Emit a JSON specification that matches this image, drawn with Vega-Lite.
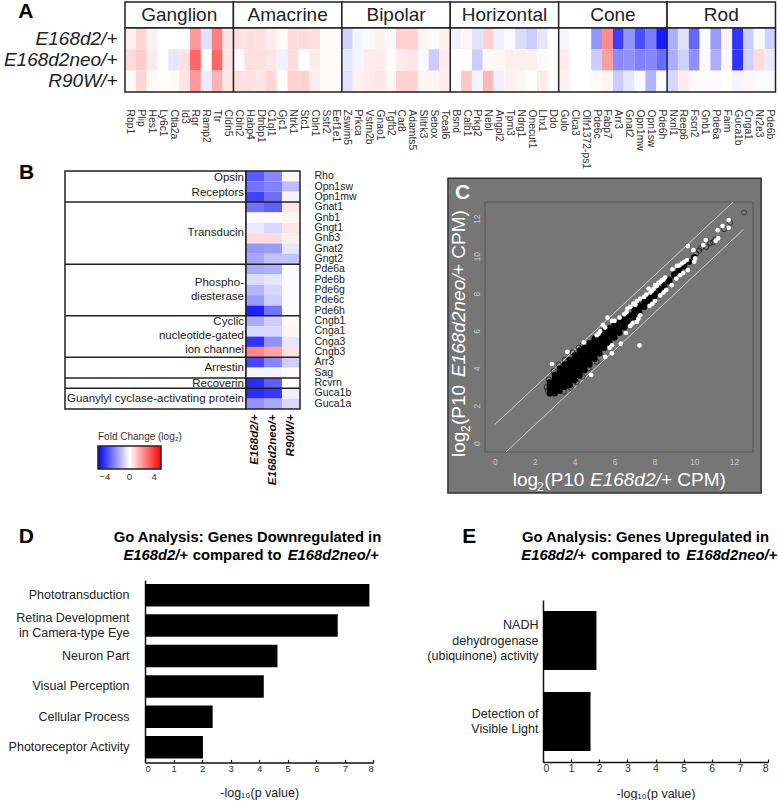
{"$schema":"https://vega.github.io/schema/vega-lite/v6.json","padding":0,"background":"white","config":{"font":"Liberation Sans","view":{"stroke":null},"axis":{"grid":false}},"datasets":{
"a":[{"g":"Rbp1","s":"E168d2/+","v":0.3},{"g":"Rbp1","s":"E168d2neo/+","v":0.7},{"g":"Rbp1","s":"R90W/+","v":0.1},{"g":"Plip","s":"E168d2/+","v":0.8},{"g":"Plip","s":"E168d2neo/+","v":1.0},{"g":"Plip","s":"R90W/+","v":0.8},{"g":"Hes1","s":"E168d2/+","v":0.3},{"g":"Hes1","s":"E168d2neo/+","v":0.4},{"g":"Hes1","s":"R90W/+","v":0.1},{"g":"Ly6c1","s":"E168d2/+","v":0},{"g":"Ly6c1","s":"E168d2neo/+","v":0},{"g":"Ly6c1","s":"R90W/+","v":0.05},{"g":"Ctla2a","s":"E168d2/+","v":0},{"g":"Ctla2a","s":"E168d2neo/+","v":-0.5},{"g":"Ctla2a","s":"R90W/+","v":0.1},{"g":"Id3","s":"E168d2/+","v":0},{"g":"Id3","s":"E168d2neo/+","v":0.6},{"g":"Id3","s":"R90W/+","v":0.5},{"g":"Rgr","s":"E168d2/+","v":2.0},{"g":"Rgr","s":"E168d2neo/+","v":3.0},{"g":"Rgr","s":"R90W/+","v":2.0},{"g":"Ramp2","s":"E168d2/+","v":-0.6},{"g":"Ramp2","s":"E168d2neo/+","v":0},{"g":"Ramp2","s":"R90W/+","v":-0.4},{"g":"Ttr","s":"E168d2/+","v":2.5},{"g":"Ttr","s":"E168d2neo/+","v":3.0},{"g":"Ttr","s":"R90W/+","v":1.5},{"g":"Cldn5","s":"E168d2/+","v":0.5},{"g":"Cldn5","s":"E168d2neo/+","v":0.5},{"g":"Cldn5","s":"R90W/+","v":0.5},
{"g":"Cbln2","s":"E168d2/+","v":0.6},{"g":"Cbln2","s":"E168d2neo/+","v":0.1},{"g":"Cbln2","s":"R90W/+","v":0.6},{"g":"Habp4","s":"E168d2/+","v":0.6},{"g":"Habp4","s":"E168d2neo/+","v":0.6},{"g":"Habp4","s":"R90W/+","v":0.6},{"g":"Dtnbp1","s":"E168d2/+","v":0.6},{"g":"Dtnbp1","s":"E168d2neo/+","v":0.6},{"g":"Dtnbp1","s":"R90W/+","v":0.5},{"g":"C1ql1","s":"E168d2/+","v":0.4},{"g":"C1ql1","s":"E168d2neo/+","v":0.5},{"g":"C1ql1","s":"R90W/+","v":0.8},{"g":"Gjc1","s":"E168d2/+","v":0.1},{"g":"Gjc1","s":"E168d2neo/+","v":-0.3},{"g":"Gjc1","s":"R90W/+","v":0},{"g":"Ntrk1","s":"E168d2/+","v":0.7},{"g":"Ntrk1","s":"E168d2neo/+","v":0.7},{"g":"Ntrk1","s":"R90W/+","v":0.9},{"g":"Stc1","s":"E168d2/+","v":0.7},{"g":"Stc1","s":"E168d2neo/+","v":0},{"g":"Stc1","s":"R90W/+","v":0.9},{"g":"Cbln1","s":"E168d2/+","v":0.6},{"g":"Cbln1","s":"E168d2neo/+","v":0.4},{"g":"Cbln1","s":"R90W/+","v":0.4},{"g":"Sstr2","s":"E168d2/+","v":0.1},{"g":"Sstr2","s":"E168d2neo/+","v":0.1},{"g":"Sstr2","s":"R90W/+","v":0.1},{"g":"Eef1e1","s":"E168d2/+","v":0.1},{"g":"Eef1e1","s":"E168d2neo/+","v":0.1},{"g":"Eef1e1","s":"R90W/+","v":0.1},
{"g":"Zswim5","s":"E168d2/+","v":-0.9},{"g":"Zswim5","s":"E168d2neo/+","v":-0.5},{"g":"Zswim5","s":"R90W/+","v":-0.6},{"g":"Prkca","s":"E168d2/+","v":-0.2},{"g":"Prkca","s":"E168d2neo/+","v":-0.2},{"g":"Prkca","s":"R90W/+","v":0.3},{"g":"Vstm2b","s":"E168d2/+","v":-0.1},{"g":"Vstm2b","s":"E168d2neo/+","v":0.4},{"g":"Vstm2b","s":"R90W/+","v":0.4},{"g":"Gnao1","s":"E168d2/+","v":0.3},{"g":"Gnao1","s":"E168d2neo/+","v":0.4},{"g":"Gnao1","s":"R90W/+","v":0.5},{"g":"Tgfb2","s":"E168d2/+","v":-0.1},{"g":"Tgfb2","s":"E168d2neo/+","v":0.1},{"g":"Tgfb2","s":"R90W/+","v":0.2},{"g":"Car8","s":"E168d2/+","v":0.9},{"g":"Car8","s":"E168d2neo/+","v":0.4},{"g":"Car8","s":"R90W/+","v":0.9},{"g":"Adamts5","s":"E168d2/+","v":0.9},{"g":"Adamts5","s":"E168d2neo/+","v":0.5},{"g":"Adamts5","s":"R90W/+","v":0.9},{"g":"Slitrk3","s":"E168d2/+","v":0.2},{"g":"Slitrk3","s":"E168d2neo/+","v":-0.1},{"g":"Slitrk3","s":"R90W/+","v":0.2},{"g":"Sebox","s":"E168d2/+","v":-0.1},{"g":"Sebox","s":"E168d2neo/+","v":-1.0},{"g":"Sebox","s":"R90W/+","v":0.2},{"g":"Tceal6","s":"E168d2/+","v":0.3},{"g":"Tceal6","s":"E168d2neo/+","v":0.4},{"g":"Tceal6","s":"R90W/+","v":0.4},
{"g":"Bsnd","s":"E168d2/+","v":-0.3},{"g":"Bsnd","s":"E168d2neo/+","v":0},{"g":"Bsnd","s":"R90W/+","v":0},{"g":"Calb1","s":"E168d2/+","v":0.2},{"g":"Calb1","s":"E168d2neo/+","v":0},{"g":"Calb1","s":"R90W/+","v":1.1},{"g":"Prkg2","s":"E168d2/+","v":-0.6},{"g":"Prkg2","s":"E168d2neo/+","v":-1.0},{"g":"Prkg2","s":"R90W/+","v":-0.2},{"g":"Nebl","s":"E168d2/+","v":0.9},{"g":"Nebl","s":"E168d2neo/+","v":0.1},{"g":"Nebl","s":"R90W/+","v":1.4},{"g":"Angpl2","s":"E168d2/+","v":-0.3},{"g":"Angpl2","s":"E168d2neo/+","v":0.2},{"g":"Angpl2","s":"R90W/+","v":-0.3},{"g":"Tpm3","s":"E168d2/+","v":-0.1},{"g":"Tpm3","s":"E168d2neo/+","v":0.3},{"g":"Tpm3","s":"R90W/+","v":0.3},{"g":"Ndrg1","s":"E168d2/+","v":-0.7},{"g":"Ndrg1","s":"E168d2neo/+","v":0.3},{"g":"Ndrg1","s":"R90W/+","v":0.2},{"g":"Onecut1","s":"E168d2/+","v":-1.0},{"g":"Onecut1","s":"E168d2neo/+","v":0.3},{"g":"Onecut1","s":"R90W/+","v":0},{"g":"Lhx1","s":"E168d2/+","v":-0.5},{"g":"Lhx1","s":"E168d2neo/+","v":0.1},{"g":"Lhx1","s":"R90W/+","v":0.4},{"g":"Ddo","s":"E168d2/+","v":0},{"g":"Ddo","s":"E168d2neo/+","v":0},{"g":"Ddo","s":"R90W/+","v":0},
{"g":"Gulo","s":"E168d2/+","v":-0.2},{"g":"Gulo","s":"E168d2neo/+","v":0.4},{"g":"Gulo","s":"R90W/+","v":0.3},{"g":"Clca3","s":"E168d2/+","v":0},{"g":"Clca3","s":"E168d2neo/+","v":0},{"g":"Clca3","s":"R90W/+","v":0},{"g":"Olfr1372-ps1","s":"E168d2/+","v":0},{"g":"Olfr1372-ps1","s":"E168d2neo/+","v":0},{"g":"Olfr1372-ps1","s":"R90W/+","v":0},{"g":"Pde6c","s":"E168d2/+","v":-2.1},{"g":"Pde6c","s":"E168d2neo/+","v":-1.0},{"g":"Pde6c","s":"R90W/+","v":0.1},{"g":"Fabp7","s":"E168d2/+","v":2.3},{"g":"Fabp7","s":"E168d2neo/+","v":1.9},{"g":"Fabp7","s":"R90W/+","v":0.2},{"g":"Arr3","s":"E168d2/+","v":-3.8},{"g":"Arr3","s":"E168d2neo/+","v":-2.3},{"g":"Arr3","s":"R90W/+","v":-1.0},{"g":"Gnat2","s":"E168d2/+","v":-2.1},{"g":"Gnat2","s":"E168d2neo/+","v":-2.2},{"g":"Gnat2","s":"R90W/+","v":-0.5},{"g":"Opn1mw","s":"E168d2/+","v":-3.5},{"g":"Opn1mw","s":"E168d2neo/+","v":-2.5},{"g":"Opn1mw","s":"R90W/+","v":-0.1},{"g":"Opn1sw","s":"E168d2/+","v":-2.6},{"g":"Opn1sw","s":"E168d2neo/+","v":-2.4},{"g":"Opn1sw","s":"R90W/+","v":-1.5},{"g":"Pde6h","s":"E168d2/+","v":-4.5},{"g":"Pde6h","s":"E168d2neo/+","v":-2.9},{"g":"Pde6h","s":"R90W/+","v":-0.1},
{"g":"Nxnl1","s":"E168d2/+","v":-1.6},{"g":"Nxnl1","s":"E168d2neo/+","v":-1.6},{"g":"Nxnl1","s":"R90W/+","v":-0.8},{"g":"Reep6","s":"E168d2/+","v":-0.6},{"g":"Reep6","s":"E168d2neo/+","v":-0.9},{"g":"Reep6","s":"R90W/+","v":0.4},{"g":"Fscn2","s":"E168d2/+","v":-3.0},{"g":"Fscn2","s":"E168d2neo/+","v":-2.2},{"g":"Fscn2","s":"R90W/+","v":0.1},{"g":"Gnb1","s":"E168d2/+","v":-0.1},{"g":"Gnb1","s":"E168d2neo/+","v":-0.1},{"g":"Gnb1","s":"R90W/+","v":0.1},{"g":"Pde6a","s":"E168d2/+","v":-2.0},{"g":"Pde6a","s":"E168d2neo/+","v":-1.6},{"g":"Pde6a","s":"R90W/+","v":-0.1},{"g":"Faim","s":"E168d2/+","v":0.2},{"g":"Faim","s":"E168d2neo/+","v":-0.1},{"g":"Faim","s":"R90W/+","v":0},{"g":"Guca1b","s":"E168d2/+","v":-4.0},{"g":"Guca1b","s":"E168d2neo/+","v":-4.0},{"g":"Guca1b","s":"R90W/+","v":-0.2},{"g":"Cnga1","s":"E168d2/+","v":-1.0},{"g":"Cnga1","s":"E168d2neo/+","v":-0.9},{"g":"Cnga1","s":"R90W/+","v":0.2},{"g":"Nr2e3","s":"E168d2/+","v":-0.1},{"g":"Nr2e3","s":"E168d2neo/+","v":0.7},{"g":"Nr2e3","s":"R90W/+","v":-0.1},{"g":"Pde6b","s":"E168d2/+","v":-0.9},{"g":"Pde6b","s":"E168d2neo/+","v":-0.4},{"g":"Pde6b","s":"R90W/+","v":-0.1}],
"b":[{"g":"Rho","a":-3.3,"n":-2.4,"r":0.2},{"g":"Opn1sw","a":-2.8,"n":-2.5,"r":-1.3},{"g":"Opn1mw","a":-3.8,"n":-2.9,"r":-0.2},{"g":"Gnat1","a":-2.8,"n":-3.2,"r":0.5},{"g":"Gnb1","a":-0.1,"n":-0.1,"r":0.2},{"g":"Gngt1","a":-0.4,"n":-0.8,"r":0.5},{"g":"Gnb3","a":0.7,"n":0.7,"r":0.3},{"g":"Gnat2","a":-2.1,"n":-2.0,"r":-0.5},{"g":"Gngt2","a":-1.8,"n":-1.2,"r":-1.2},{"g":"Pde6a","a":-1.7,"n":-1.6,"r":-0.1},{"g":"Pde6b","a":-0.7,"n":-0.5,"r":-0.1},{"g":"Pde6g","a":-1.5,"n":-0.8,"r":-0.1},{"g":"Pde6c","a":-2.0,"n":-1.0,"r":-0.1},{"g":"Pde6h","a":-4.5,"n":-2.8,"r":-0.1},{"g":"Cngb1","a":-1.7,"n":-1.0,"r":0.1},{"g":"Cnga1","a":-0.8,"n":-0.8,"r":0.2},{"g":"Cnga3","a":-4.1,"n":-2.2,"r":-0.5},{"g":"Cngb3","a":2.4,"n":1.8,"r":0.6},{"g":"Arr3","a":-3.7,"n":-2.4,"r":-1.0},{"g":"Sag","a":-0.2,"n":-0.2,"r":0.1},{"g":"Rcvrn","a":-4.2,"n":-3.2,"r":0},{"g":"Guca1b","a":-4.2,"n":-4.0,"r":-0.3},{"g":"Guca1a","a":-2.2,"n":-1.7,"r":-0.8}],
"cloud":[{"x":2.75,"y":2.65},{"x":2.75,"y":2.85},{"x":2.75,"y":3.05},{"x":2.75,"y":3.25},{"x":3,"y":2.65},{"x":3,"y":2.85},{"x":3,"y":3.05},{"x":3,"y":3.25},{"x":3,"y":3.45},{"x":3,"y":3.65},{"x":3.25,"y":2.8},{"x":3.25,"y":3.0},{"x":3.25,"y":3.2},{"x":3.25,"y":3.4},{"x":3.25,"y":3.6},{"x":3.25,"y":3.8},{"x":3.25,"y":4.0},{"x":3.5,"y":3.0},{"x":3.5,"y":3.2},{"x":3.5,"y":3.4},{"x":3.5,"y":3.6},{"x":3.5,"y":3.8},{"x":3.5,"y":4.0},{"x":3.5,"y":4.2},{"x":3.75,"y":3.1},{"x":3.75,"y":3.3},{"x":3.75,"y":3.5},{"x":3.75,"y":3.7},{"x":3.75,"y":3.9},{"x":3.75,"y":4.1},{"x":3.75,"y":4.3},{"x":3.75,"y":4.45},{"x":4,"y":3.35},{"x":4,"y":3.55},{"x":4,"y":3.75},{"x":4,"y":3.95},{"x":4,"y":4.15},{"x":4,"y":4.35},{"x":4,"y":4.55},{"x":4,"y":4.7},{"x":4.25,"y":3.6},{"x":4.25,"y":3.8},{"x":4.25,"y":4.0},{"x":4.25,"y":4.2},{"x":4.25,"y":4.4},{"x":4.25,"y":4.6},{"x":4.25,"y":4.8},{"x":4.25,"y":4.95},{"x":4.5,"y":3.9},{"x":4.5,"y":4.1},{"x":4.5,"y":4.3},{"x":4.5,"y":4.5},{"x":4.5,"y":4.7},{"x":4.5,"y":4.9},{"x":4.5,"y":5.1},{"x":4.75,"y":4.2},{"x":4.75,"y":4.4},{"x":4.75,"y":4.6},{"x":4.75,"y":4.8},{"x":4.75,"y":5.0},{"x":4.75,"y":5.2},{"x":4.75,"y":5.35},{"x":5,"y":4.5},{"x":5,"y":4.7},{"x":5,"y":4.9},{"x":5,"y":5.1},{"x":5,"y":5.3},{"x":5,"y":5.5},{"x":5,"y":5.6},{"x":5.25,"y":4.8},{"x":5.25,"y":5.0},{"x":5.25,"y":5.2},{"x":5.25,"y":5.4},{"x":5.25,"y":5.6},{"x":5.25,"y":5.8},{"x":5.5,"y":5.1},{"x":5.5,"y":5.3},{"x":5.5,"y":5.5},{"x":5.5,"y":5.7},{"x":5.5,"y":5.9},{"x":5.5,"y":6.05},{"x":5.75,"y":5.35},{"x":5.75,"y":5.55},{"x":5.75,"y":5.75},{"x":5.75,"y":5.95},{"x":5.75,"y":6.15},{"x":6,"y":5.65},{"x":6,"y":5.85},{"x":6,"y":6.05},{"x":6,"y":6.25},{"x":6,"y":6.4},{"x":6.25,"y":5.9},{"x":6.25,"y":6.1},{"x":6.25,"y":6.3},{"x":6.25,"y":6.5},{"x":6.5,"y":6.2},{"x":6.5,"y":6.4},{"x":6.5,"y":6.6},{"x":6.5,"y":6.75},{"x":6.75,"y":6.45},{"x":6.75,"y":6.65},{"x":6.75,"y":6.85},{"x":7,"y":6.75},{"x":7,"y":6.95},{"x":7,"y":7.1},{"x":7.25,"y":7.0},{"x":7.25,"y":7.2},{"x":7.25,"y":7.35},{"x":7.5,"y":7.3},{"x":7.5,"y":7.45},{"x":7.5,"y":7.6},{"x":7.75,"y":7.55},{"x":7.75,"y":7.7},{"x":7.75,"y":7.85},{"x":8,"y":7.85},{"x":8,"y":8.0},{"x":8.25,"y":8.1},{"x":8.25,"y":8.25},{"x":8.5,"y":8.35},{"x":8.5,"y":8.5},{"x":8.75,"y":8.65},{"x":8.75,"y":8.75},{"x":9,"y":8.95},{"x":9,"y":9.05},{"x":9.25,"y":9.2},{"x":9.25,"y":9.3},{"x":9.5,"y":9.45},{"x":9.5,"y":9.55},{"x":9.75,"y":9.7},{"x":10,"y":9.95}],
"fringe":[{"x":2.65,"y":2.8},{"x":2.6,"y":3.0},{"x":2.7,"y":3.4},{"x":2.95,"y":3.85},{"x":3.2,"y":4.2},{"x":3.5,"y":4.45},{"x":3.9,"y":4.85},{"x":4.2,"y":5.1},{"x":4.4,"y":5.25},{"x":3.45,"y":2.75},{"x":3.8,"y":2.95},{"x":4.1,"y":3.25},{"x":4.4,"y":3.55},{"x":4.7,"y":4.0},{"x":5.1,"y":4.35},{"x":10.1,"y":10.15},{"x":10.25,"y":10.3},{"x":10.35,"y":10.45},{"x":10.6,"y":10.5},{"x":10.8,"y":10.7},{"x":10.95,"y":10.75},{"x":11.05,"y":10.9},{"x":11.5,"y":11.45},{"x":11.8,"y":11.8}],
"white":[{"x":2.86,"y":4.23},{"x":3.63,"y":4.88},{"x":4.46,"y":5.39},{"x":5.65,"y":6.71},{"x":5.42,"y":6.32},{"x":5.53,"y":6.18},{"x":5.11,"y":5.77},{"x":5.2,"y":5.85},{"x":5.28,"y":5.98},{"x":5.87,"y":6.54},{"x":6.0,"y":6.54},{"x":6.25,"y":6.71},{"x":6.49,"y":6.89},{"x":6.6,"y":7.0},{"x":6.65,"y":7.2},{"x":6.79,"y":7.29},{"x":6.95,"y":7.46},{"x":7.05,"y":7.4},{"x":7.12,"y":7.6},{"x":7.29,"y":7.73},{"x":7.49,"y":7.82},{"x":7.6,"y":7.95},{"x":7.71,"y":8.27},{"x":7.8,"y":8.05},{"x":7.87,"y":8.14},{"x":7.95,"y":8.25},{"x":8.04,"y":8.45},{"x":8.12,"y":8.4},{"x":8.21,"y":8.57},{"x":8.3,"y":8.6},{"x":8.37,"y":8.71},{"x":8.45,"y":8.75},{"x":8.54,"y":8.86},{"x":8.91,"y":9.3},{"x":9.13,"y":9.48},{"x":9.25,"y":9.5},{"x":9.38,"y":9.61},{"x":9.5,"y":9.7},{"x":9.63,"y":9.79},{"x":9.68,"y":10.54},{"x":9.96,"y":10.32},{"x":10.05,"y":9.88},{"x":10.46,"y":10.59},{"x":10.58,"y":10.86},{"x":11.18,"y":11.39},{"x":11.42,"y":11.61},{"x":11.73,"y":11.93},{"x":11.73,"y":11.52},{"x":11.2,"y":10.95},{"x":11.08,"y":10.82},{"x":4.83,"y":3.64},{"x":5.53,"y":4.61},{"x":5.87,"y":4.8},{"x":5.75,"y":5.1},{"x":5.87,"y":5.23},{"x":6.32,"y":5.32},{"x":6.57,"y":5.89},{"x":6.79,"y":6.27},{"x":6.9,"y":6.4},{"x":7.12,"y":6.48},{"x":7.25,"y":5.23},{"x":7.29,"y":6.84},{"x":7.2,"y":6.65},{"x":7.76,"y":7.34},{"x":7.9,"y":7.45},{"x":8.04,"y":7.6},{"x":8.3,"y":7.9},{"x":8.46,"y":8.05},{"x":8.6,"y":8.2},{"x":8.87,"y":8.45},{"x":9.1,"y":8.8},{"x":9.29,"y":8.98},{"x":9.45,"y":9.1},{"x":9.68,"y":9.25},{"x":10.0,"y":9.7}]},
"bounds":"flush","spacing":0,
"resolve":{"scale":{"color":"independent"},"legend":{"color":"independent"}},
"vconcat":[
{"width":1,"height":2,"data":{"values":[{}]},"mark":{"type":"rect","opacity":0},"encoding":{}},
{"hconcat":[
{"width":124.5,"height":90,"data":{"values":[{}]},"mark":{"type":"rect","opacity":0},"encoding":{}},
{"vconcat":[
{"width":650.5,"height":26,"data":{"values":[{"c":"Ganglion"},{"c":"Amacrine"},{"c":"Bipolar"},{"c":"Horizontal"},{"c":"Cone"},{"c":"Rod"}]},
"layer":[
{"mark":{"type":"rect","fill":"white","stroke":"#222","strokeWidth":1.5},"encoding":{"x":{"field":"c","type":"nominal","sort":null,"axis":null,"scale":{"type":"band","paddingInner":0,"paddingOuter":0}}}},
{"mark":{"type":"text","fontSize":19,"color":"#222"},"encoding":{"x":{"field":"c","type":"nominal","sort":null,"axis":null},"text":{"field":"c"}}},
{"data":{"values":[{"t":"A"}]},"mark":{"type":"text","align":"left","fontSize":21,"fontWeight":"bold","dx":-432,"dy":-3},"encoding":{"text":{"field":"t"}}}]},
{"width":650.5,"height":64,"data":{"name":"a"},
"layer":[
{"mark":{"type":"rect"},"encoding":{
"x":{"field":"g","type":"nominal","sort":null,"scale":{"type":"band","paddingInner":0,"paddingOuter":0},"axis":{"title":null,"domain":false,"ticks":false,"labelAngle":90,"labelAlign":"left","labelBaseline":"middle","labelPadding":17,"labelFontSize":10.3,"labelColor":"#333","labelOverlap":false,"labelLimit":200}},
"y":{"field":"s","type":"nominal","sort":null,"scale":{"type":"band","paddingInner":0,"paddingOuter":0},"axis":{"title":null,"domain":false,"ticks":false,"labelFontSize":19,"labelFontStyle":"italic","labelColor":"#222","labelPadding":8,"labelLimit":200}},
"color":{"field":"v","type":"quantitative","legend":null,"scale":{"domain":[-5,0,5],"range":["#0000ff","#ffffff","#ff0000"],"interpolate":"rgb"}}}},
{"data":{"values":[{"g":"Cbln2"},{"g":"Zswim5"},{"g":"Bsnd"},{"g":"Gulo"},{"g":"Nxnl1"}]},"mark":{"type":"rule","color":"#222","strokeWidth":1.5},"encoding":{"x":{"field":"g","type":"nominal","bandPosition":0,"sort":null}}},
{"data":{"values":[{}]},"mark":{"type":"rect","fill":null,"stroke":"#222","strokeWidth":1.5},"encoding":{}}]}
],"spacing":0,"bounds":"flush"}
],"spacing":0,"bounds":"flush"},
{"width":1,"height":169,"data":{"values":[{}]},"mark":{"type":"rect","opacity":0},"encoding":{}},
{"hconcat":[
{"width":65,"height":238,"data":{"values":[{}]},"mark":{"type":"rect","opacity":0},"encoding":{}},
{"width":181,"height":238,"layer":[
{"data":{"values":[{"y":3},{"y":9},{"y":14},{"y":18},{"y":20},{"y":21}]},"mark":{"type":"rule","color":"#222","strokeWidth":1.5},"encoding":{"y":{"field":"y","type":"quantitative","axis":null,"scale":{"domain":[0,23],"reverse":true,"nice":false,"zero":false}}}},
{"data":{"values":[{"t":"Opsin","y":0.68},{"t":"Receptors","y":2.1},{"t":"Transducin","y":5.96},{"t":"Phospho-","y":10.8},{"t":"diesterase","y":12.15},{"t":"Cyclic","y":14.6},{"t":"nucleotide-gated","y":15.94},{"t":"ion channel","y":17.3},{"t":"Arrestin","y":19},{"t":"Recoverin","y":20.58},{"t":"Guanylyl cyclase-activating protein","y":22.03}]},"mark":{"type":"text","align":"right","baseline":"middle","fontSize":11.5,"dx":88.5,"color":"#222"},"encoding":{"y":{"field":"y","type":"quantitative","axis":null},"text":{"field":"t"}}},
{"data":{"values":[{}]},"mark":{"type":"rect","fill":null,"stroke":"#222","strokeWidth":1.5},"encoding":{}},
{"data":{"values":[{"t":"B"}]},"mark":{"type":"text","align":"left","fontSize":21,"fontWeight":"bold","dx":-136.5,"dy":-117},"encoding":{"text":{"field":"t"}}}]},
{"width":54,"height":238,"data":{"name":"b"},"transform":[{"fold":["a","n","r"],"as":["k","v"]},{"lookup":"k","from":{"data":{"values":[{"k":"a","s":"E168d2/+"},{"k":"n","s":"E168d2neo/+"},{"k":"r","s":"R90W/+"}]},"key":"k","fields":["s"]}}],
"layer":[
{"mark":{"type":"rect"},"encoding":{
"x":{"field":"s","type":"nominal","sort":["E168d2/+","E168d2neo/+","R90W/+"],"scale":{"type":"band","paddingInner":0,"paddingOuter":0},"axis":{"title":null,"domain":false,"ticks":false,"labelAngle":270,"labelAlign":"right","labelBaseline":"middle","labelPadding":5,"labelFontSize":11.5,"labelFontStyle":"italic","labelFontWeight":"bold","labelColor":"#111"}},
"y":{"field":"g","type":"nominal","sort":null,"scale":{"type":"band","paddingInner":0,"paddingOuter":0},"axis":{"orient":"right","title":null,"domain":false,"ticks":false,"labelFontSize":10.5,"labelColor":"#222","labelPadding":14,"labelOverlap":false}},
"color":{"field":"v","type":"quantitative","scale":{"domain":[-5.1,0,5.1],"range":["#0000ff","#ffffff","#ff0000"],"interpolate":"rgb"},"legend":{"orient":"none","legendX":98,"legendY":261,"direction":"horizontal","gradientLength":63,"gradientThickness":23,"gradientStrokeColor":"#222","gradientStrokeWidth":1.5,"values":[-4,0,4],"title":"Fold Change (log₂)","titleFontSize":10,"titleFontWeight":"normal","titleColor":"#333","titleLimit":200,"titlePadding":4,"labelFontSize":9.5,"labelColor":"#333","labelOffset":3}}}},
{"data":{"values":[{"g":"Gnat1"},{"g":"Pde6a"},{"g":"Cngb1"},{"g":"Arr3"},{"g":"Rcvrn"},{"g":"Guca1b"}]},"mark":{"type":"rule","color":"#222","strokeWidth":1.5},"encoding":{"y":{"field":"g","type":"nominal","bandPosition":0,"sort":null}}},
{"data":{"values":[{}]},"mark":{"type":"rect","fill":null,"stroke":"#222","strokeWidth":1.5},"encoding":{}}]},
{"width":185,"height":238,"data":{"values":[{}]},"mark":{"type":"rect","opacity":0},"encoding":{}},
{"vconcat":[
{"width":1,"height":31,"data":{"values":[{}]},"mark":{"type":"rect","opacity":0},"encoding":{}},
{"width":268,"height":250,"layer":[
{"data":{"values":[{"x":-2.36,"x2":13.36,"y":-2.68,"y2":14.17}]},"mark":{"type":"rect","fill":"#767676","stroke":"#333","strokeWidth":1.5},"encoding":{"x":{"field":"x","type":"quantitative","scale":{"domain":[-0.5,12.95],"nice":false,"zero":false},"axis":{"title":null,"grid":false,"domain":false,"ticks":false,"zindex":1,"values":[0,2,4,6,8,10,12],"labelColor":"#c8c8c8","labelFontSize":8.5,"labelPadding":5}},"x2":{"field":"x2"},"y":{"field":"y","type":"quantitative","scale":{"domain":[-0.48,12.9],"nice":false,"zero":false},"axis":{"title":null,"grid":false,"domain":false,"ticks":false,"zindex":1,"values":[0,2,4,6,8,10,12],"labelColor":"#c8c8c8","labelFontSize":8.5,"labelPadding":4,"labelAngle":270,"labelAlign":"center","labelBaseline":"bottom"}},"y2":{"field":"y2"}}},
{"data":{"values":[{"x":-0.5,"x2":12.95,"y":-0.48,"y2":12.9}]},"mark":{"type":"rect","fill":null,"stroke":"#555","strokeWidth":1},"encoding":{"x":{"field":"x","type":"quantitative"},"x2":{"field":"x2"},"y":{"field":"y","type":"quantitative"},"y2":{"field":"y2"}}},
{"data":{"values":[{"b":"u","x":0,"y":1},{"b":"u","x":11.95,"y":12.9},{"b":"l","x":0.55,"y":-0.48},{"b":"l","x":12.47,"y":11.43}]},"mark":{"type":"line","color":"#d0d0d0","strokeWidth":1},"encoding":{"x":{"field":"x","type":"quantitative"},"y":{"field":"y","type":"quantitative"},"detail":{"field":"b"}}},
{"data":{"name":"fringe"},"mark":{"type":"point","filled":false,"color":"#111","size":26,"strokeWidth":1},"encoding":{"x":{"field":"x","type":"quantitative"},"y":{"field":"y","type":"quantitative"}}},
{"data":{"values":[{"x":12.5,"y":12.35}]},"mark":{"type":"point","filled":false,"color":"#333","size":26,"strokeWidth":1},"encoding":{"x":{"field":"x","type":"quantitative"},"y":{"field":"y","type":"quantitative"}}},
{"data":{"name":"cloud"},"mark":{"type":"point","filled":true,"color":"#000","size":38,"opacity":1},"encoding":{"x":{"field":"x","type":"quantitative"},"y":{"field":"y","type":"quantitative"}}},
{"data":{"name":"white"},"mark":{"type":"point","filled":true,"color":"#fff","size":22,"opacity":1},"encoding":{"x":{"field":"x","type":"quantitative"},"y":{"field":"y","type":"quantitative"}}},
{"data":{"values":[{"t":"C"}]},"mark":{"type":"text","align":"left","fontSize":21,"fontWeight":"bold","color":"white","dx":-164,"dy":-134},"encoding":{"text":{"field":"t"}}},
{"data":{"values":[{"t":"log"}]},"mark":{"type":"text","align":"left","fontSize":19,"color":"white","dx":-106.3,"dy":153},"encoding":{"text":{"field":"t"}}},
{"data":{"values":[{"t":"2"}]},"mark":{"type":"text","align":"left","fontSize":12,"color":"white","dx":-82,"dy":160},"encoding":{"text":{"field":"t"}}},
{"data":{"values":[{"t":"(P10"}]},"mark":{"type":"text","align":"left","fontSize":19,"color":"white","dx":-74.7,"dy":153},"encoding":{"text":{"field":"t"}}},
{"data":{"values":[{"t":"E168d2/"}]},"mark":{"type":"text","align":"left","fontSize":19,"fontStyle":"italic","color":"white","dx":-29,"dy":153},"encoding":{"text":{"field":"t"}}},
{"data":{"values":[{"t":"+ CPM)"}]},"mark":{"type":"text","align":"left","fontSize":19,"color":"white","dx":42,"dy":153},"encoding":{"text":{"field":"t"}}},
{"data":{"values":[{"t":"log"}]},"mark":{"type":"text","align":"left","angle":270,"fontSize":19,"color":"white","dx":-130,"dy":-160},"encoding":{"text":{"field":"t"}}},
{"data":{"values":[{"t":"2"}]},"mark":{"type":"text","align":"left","angle":270,"fontSize":12,"color":"white","dx":-105,"dy":-153},"encoding":{"text":{"field":"t"}}},
{"data":{"values":[{"t":"(P10"}]},"mark":{"type":"text","align":"left","angle":270,"fontSize":19,"color":"white","dx":-98,"dy":-160},"encoding":{"text":{"field":"t"}}},
{"data":{"values":[{"t":"E168d2neo/"}]},"mark":{"type":"text","align":"left","angle":270,"fontSize":19,"fontStyle":"italic","color":"white","dx":-50,"dy":-160},"encoding":{"text":{"field":"t"}}},
{"data":{"values":[{"t":"+ CPM)"}]},"mark":{"type":"text","align":"left","angle":270,"fontSize":19,"color":"white","dx":52,"dy":-160},"encoding":{"text":{"field":"t"}}}
]}],"spacing":0,"bounds":"flush"}
],"spacing":0,"bounds":"flush"},
{"width":1,"height":409,"data":{"values":[{}]},"mark":{"type":"rect","opacity":0},"encoding":{}},
{"hconcat":[
{"width":144.3,"height":182,"data":{"values":[{}]},"mark":{"type":"rect","opacity":0},"encoding":{}},
{"width":228.4,"height":182.4,"data":{"values":[{"c":"Phototransduction","v":7.86},{"c":"Retina Development|in Camera-type Eye  ","v":6.75},{"c":"Neuron Part","v":4.64},{"c":"Visual Perception","v":4.16},{"c":"Cellular Process","v":2.37},{"c":"Photoreceptor Activity","v":2.03}]},
"layer":[
{"mark":{"type":"bar","color":"#000"},"encoding":{
"x":{"field":"v","type":"quantitative","scale":{"domain":[0,8],"nice":false},"axis":{"title":"-log₁₀(p value)","titleFontSize":12.5,"titleFontWeight":"normal","titleColor":"#222","titlePadding":14,"values":[0,1,2,3,4,5,6,7,8],"domainColor":"#111","domainWidth":1.5,"tickColor":"#111","tickSize":-3,"tickWidth":1.2,"labelPadding":4,"labelFontSize":9.5,"labelColor":"#333","labelAngle":0}},
"y":{"field":"c","type":"nominal","sort":null,"scale":{"type":"band","paddingInner":0.26,"paddingOuter":0.13},"axis":{"title":null,"domainColor":"#111","domainWidth":1.5,"ticks":false,"labelPadding":16,"labelFontSize":12.5,"labelColor":"#222","labelLimit":200,"labelLineHeight":15,"labelExpr":"split(datum.label,'|')","encoding":{"labels":{"dy":{"value":{"signal":"-(length(split(datum.value,'|'))-1)*7.5"}}}}}}}},
{"data":{"values":[{"t":"D"}]},"mark":{"type":"text","align":"left","fontSize":21,"fontWeight":"bold","dx":-240.5,"dy":-134},"encoding":{"text":{"field":"t"}}},
{"data":{"values":[{"t":"Go Analysis: Genes Downregulated in"}]},"mark":{"type":"text","align":"left","fontSize":14.8,"fontWeight":"bold","dx":-145.5,"dy":-133.5},"encoding":{"text":{"field":"t"}}},
{"data":{"values":[{"t":"E168d2/+"}]},"mark":{"type":"text","align":"left","fontSize":14.8,"fontWeight":"bold","fontStyle":"italic","dx":-135.8,"dy":-115.5},"encoding":{"text":{"field":"t"}}},
{"data":{"values":[{"t":"compared to"}]},"mark":{"type":"text","align":"left","fontSize":14.8,"fontWeight":"bold","dx":-66.5,"dy":-115.5},"encoding":{"text":{"field":"t"}}},
{"data":{"values":[{"t":"E168d2neo/+"}]},"mark":{"type":"text","align":"left","fontSize":14.8,"fontWeight":"bold","fontStyle":"italic","dx":28.5,"dy":-115.5},"encoding":{"text":{"field":"t"}}}]},
{"width":169,"height":182,"data":{"values":[{}]},"mark":{"type":"rect","opacity":0},"encoding":{}},
{"vconcat":[
{"width":1,"height":20,"data":{"values":[{}]},"mark":{"type":"rect","opacity":0},"encoding":{}},
{"width":225,"height":162,"data":{"values":[{"c":"NADH  |dehydrogenase  |(ubiquinone) activity","v":1.9},{"c":"Detection of  |Visible Light","v":1.69}]},
"layer":[
{"mark":{"type":"bar","color":"#000"},"encoding":{
"x":{"field":"v","type":"quantitative","scale":{"domain":[0,8],"nice":false},"axis":{"title":"-log₁₀(p value)","titleFontSize":12.5,"titleFontWeight":"normal","titleColor":"#222","titlePadding":14,"values":[0,1,2,3,4,5,6,7,8],"domainColor":"#111","domainWidth":1.5,"tickColor":"#111","tickSize":-3,"tickWidth":1.2,"labelPadding":4,"labelFontSize":10.5,"labelColor":"#333","labelAngle":0}},
"y":{"field":"c","type":"nominal","sort":null,"scale":{"type":"band","paddingInner":0.27,"paddingOuter":0.135},"axis":{"title":null,"domainColor":"#111","domainWidth":1.5,"ticks":false,"labelPadding":5,"labelFontSize":12.5,"labelColor":"#222","labelLimit":200,"labelLineHeight":15.5,"labelExpr":"split(datum.label,'|')","encoding":{"labels":{"dy":{"value":{"signal":"-(length(split(datum.value,'|'))-1)*7.75"}}}}}}}},
{"data":{"values":[{"t":"E"}]},"mark":{"type":"text","align":"left","fontSize":21,"fontWeight":"bold","dx":-193.2,"dy":-144},"encoding":{"text":{"field":"t"}}},
{"data":{"values":[{"t":"Go Analysis: Genes Upregulated in"}]},"mark":{"type":"text","align":"left","fontSize":14.8,"fontWeight":"bold","dx":-133.5,"dy":-143.3},"encoding":{"text":{"field":"t"}}},
{"data":{"values":[{"t":"E168d2/+"}]},"mark":{"type":"text","align":"left","fontSize":14.8,"fontWeight":"bold","fontStyle":"italic","dx":-134.2,"dy":-125.3},"encoding":{"text":{"field":"t"}}},
{"data":{"values":[{"t":"compared to"}]},"mark":{"type":"text","align":"left","fontSize":14.8,"fontWeight":"bold","dx":-64.2,"dy":-125.3},"encoding":{"text":{"field":"t"}}},
{"data":{"values":[{"t":"E168d2neo/+"}]},"mark":{"type":"text","align":"left","fontSize":14.8,"fontWeight":"bold","fontStyle":"italic","dx":30.8,"dy":-125.3},"encoding":{"text":{"field":"t"}}}]}
],"spacing":0,"bounds":"flush"}
],"spacing":0,"bounds":"flush"}
]}
